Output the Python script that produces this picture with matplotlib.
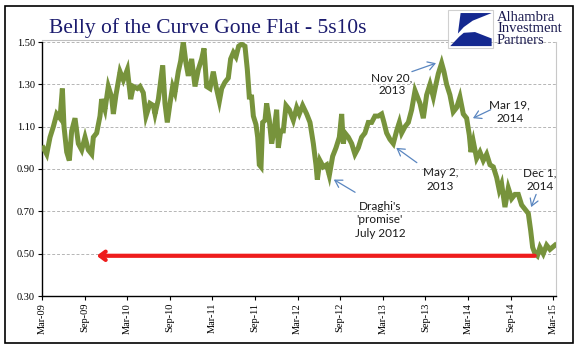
import numpy as np
import pandas as pd
import matplotlib
matplotlib.use("Agg")
import matplotlib.pyplot as plt
from matplotlib.patches import Rectangle, Polygon, FancyArrowPatch
from matplotlib.lines import Line2D

# months since Mar-2009 and 5s10s spread
months = [0.19, 0.66, 1.13, 1.6, 2.07, 2.54, 2.87, 3.1, 3.48, 3.85, 4.18, 4.65,
          5.12, 5.59, 6.06, 6.53, 7.0, 7.23, 7.7, 8.17, 8.4, 8.87, 9.34, 9.81,
          10.05, 10.42, 10.99, 11.46, 12.02, 12.49, 12.86, 13.43, 13.8, 14.27,
          14.65, 15.21, 15.68, 15.92, 16.39,
          17.0, 17.32, 17.65, 18.03, 18.4, 18.73, 19.2, 19.53, 19.9, 20.28,
          20.61, 21.08, 21.55, 22.02, 22.49, 22.82, 23.19, 23.66, 24.13, 24.51,
          24.98, 25.31, 25.77, 26.24, 26.57, 26.95, 27.32, 27.7, 28.12, 28.59,
          28.92, 29.2, 29.53, 29.77, 30.14, 30.38, 30.61, 30.85, 31.08, 31.41,
          31.64, 32.02, 32.35, 32.68, 33.05, 33.29, 33.62, 33.99, 34.37, 34.84,
          35.4, 35.87, 36.24, 36.71, 37.28, 37.75, 38.22, 38.59, 38.78, 39.15,
          39.62, 40.09, 40.47, 40.94, 41.41, 41.88, 42.21, 42.44, 42.68, 43.15,
          43.62, 44.08, 44.55, 45.02, 45.49, 45.96, 46.43, 46.9, 47.37, 47.84,
          48.17, 48.54, 49.01, 49.48, 49.95, 50.33, 50.66, 51.13, 51.6, 52.07,
          52.54, 53.0,
          53.24, 53.71, 54.18, 54.65, 55.12, 55.49, 55.82, 56.29, 56.62, 56.99,
          57.46, 57.93, 58.4, 58.87, 59.34, 59.81, 60.19, 60.42, 60.75, 61.22,
          61.69, 62.16, 62.63, 63.1, 63.57, 64.04, 64.41, 64.74, 65.21, 65.68,
          66.15, 66.62, 67.09, 67.56, 68.03, 68.5, 68.83, 69.11, 69.44, 69.77,
          70.14, 70.61, 71.08, 71.55, 72.25]
spread = [1.00, 0.97, 1.05, 1.10, 1.16, 1.14, 1.28, 1.10, 0.98, 0.94, 1.08, 1.14,
          1.02, 0.99, 1.05, 0.99, 0.97, 1.05, 1.07, 1.15, 1.23, 1.18, 1.29, 1.24,
          1.16, 1.25, 1.36, 1.32, 1.37, 1.23, 1.29, 1.28, 1.29, 1.26,
          1.15, 1.21, 1.20, 1.16, 1.23,
          1.39, 1.21, 1.12, 1.21, 1.29, 1.26, 1.36, 1.41, 1.50, 1.40,
          1.34, 1.42, 1.29, 1.37, 1.42, 1.47, 1.29, 1.28, 1.36, 1.29,
          1.22, 1.28, 1.31, 1.33, 1.42, 1.45, 1.43, 1.48, 1.49, 1.48,
          1.37, 1.24, 1.24, 1.15, 1.11, 1.05, 0.92, 0.91, 1.12, 1.13,
          1.21, 1.13, 1.02, 1.08, 1.18, 1.00, 1.08, 1.08, 1.20, 1.18,
          1.13, 1.19, 1.16, 1.20, 1.16, 1.12, 1.02, 0.92, 0.85, 0.94,
          0.91, 0.92, 0.87, 0.96, 1.00, 1.05, 1.16, 1.02, 1.07, 1.05,
          1.02, 0.97, 1.00, 1.05, 1.07, 1.12, 1.12, 1.15, 1.15, 1.16,
          1.12, 1.07, 1.04, 1.02, 1.08, 1.12, 1.07, 1.10, 1.12, 1.18,
          1.27, 1.23,
          1.21, 1.14, 1.25, 1.30, 1.24, 1.30, 1.35, 1.40, 1.36, 1.30,
          1.25, 1.17, 1.19, 1.24, 1.16, 1.14, 1.06, 0.98, 1.03, 0.95,
          0.98, 0.94, 0.97, 0.92, 0.91, 0.86, 0.80, 0.83, 0.72, 0.81,
          0.76, 0.78, 0.78, 0.73, 0.71, 0.69, 0.61, 0.53, 0.50, 0.49,
          0.53, 0.50, 0.54, 0.52, 0.54]

tick_labels = ["Mar-09", "Sep-09", "Mar-10", "Sep-10", "Mar-11", "Sep-11", "Mar-12",
               "Sep-12", "Mar-13", "Sep-13", "Mar-14", "Sep-14", "Mar-15"]
tick_months = [0, 6, 12, 18, 24, 30, 36, 42, 48, 54, 60, 66, 72]
y_ticks = [0.30, 0.50, 0.70, 0.90, 1.10, 1.30, 1.50]

# annotation text, text centre, arrow tail, arrow head (months, spread)
notes = [
    ("Nov 20,\n2013", (49.3, 1.30), (52.1, 1.36), (55.5, 1.40)),
    ("Mar 19,\n2014", (65.9, 1.17), (63.2, 1.18), (60.7, 1.14)),
    ("May 2,\n2013", (56.1, 0.85), (52.8, 0.93), (49.9, 1.00)),
    ("Draghi's\n'promise'\nJuly 2012", (47.6, 0.66), (44.1, 0.79), (41.1, 0.85)),
    ("Dec 1,\n2014", (70.1, 0.85), (69.6, 0.78), (68.9, 0.72)),
]
red_start, red_end, red_level = 69.4, 7.7, 0.49

W, H = 583, 361
fig = plt.figure(figsize=(W / 100, H / 100), dpi=100)
ax = fig.add_axes([42 / W, 1 - 296 / H, (556 - 42) / W, (296 - 42) / H])

ax.plot(months, spread, color="#77933C", lw=3.6, solid_joinstyle="miter", zorder=3)

ax.set_xlim(0, 72.4)
ax.set_ylim(0.30, 1.50)
ax.set_yticks(y_ticks)
ax.set_yticklabels([f"{v:.2f}" for v in y_ticks], family="Liberation Serif", fontsize=7.5)
ax.set_xticks(tick_months)
ax.set_xticklabels(tick_labels, rotation=90, family="Liberation Serif", fontsize=7.5)
ax.tick_params(length=3, width=0.8, pad=2, colors="black")
for v in y_ticks[1:]:
    ax.axhline(v, color="#b5b5b5", lw=0.7, ls=(0, (3, 2)), zorder=1)
ax.spines["top"].set_visible(False)
ax.spines["right"].set_color("#c8c8c8")
ax.spines["right"].set_linewidth(0.8)
ax.spines["left"].set_linewidth(1.0)
ax.spines["bottom"].set_linewidth(1.0)

# red arrow at 0.50
ax.add_patch(FancyArrowPatch((red_start, red_level), (red_end, red_level),
                             arrowstyle="->,head_length=4,head_width=3",
                             color="#ee1c1c", lw=3, zorder=4,
                             shrinkA=0, shrinkB=0))

for text, tpos, tail, head in notes:
    ax.text(tpos[0], tpos[1], text, ha="center", va="center", fontsize=8.5,
            family="Lato", color="#1a1a1a", linespacing=1.25, zorder=5)
    ax.annotate("", xy=head, xytext=tail,
                arrowprops=dict(arrowstyle="->,head_length=0.5,head_width=0.3",
                                color="#5a86c0", lw=0.9, shrinkA=0, shrinkB=0))

# title and rule
fig.text(49 / W, 1 - 33 / H, "Belly of the Curve Gone Flat - 5s10s",
         family="Liberation Serif", fontsize=15.5, color="#1b1b6e", va="baseline")
fig.add_artist(Line2D([42 / W, 448 / W], [1 - 40 / H, 1 - 40 / H],
                      color="#c0c0c0", lw=0.8))

# logo
bx0, by0, bx1, by1 = 448, 10, 493, 48
fig.add_artist(Rectangle((bx0 / W, 1 - by1 / H), (bx1 - bx0) / W, (by1 - by0) / H,
                         fill=False, ec="#d0d0d0", lw=0.8))
def lp(px, py):
    return (bx0 + px * (bx1 - bx0)) / W, 1 - (by0 + py * (by1 - by0)) / H
upper = [lp(0.28, 0.08), lp(0.97, 0.08), lp(0.55, 0.28), lp(0.35, 0.45), lp(0.22, 0.62)]
lower = [lp(0.05, 0.95), lp(0.97, 0.95), lp(0.97, 0.75), lp(0.6, 0.58), lp(0.35, 0.6), lp(0.25, 0.7)]
fig.add_artist(Polygon(upper, closed=True, fc="#14288f", ec="none"))
fig.add_artist(Polygon(lower, closed=True, fc="#14288f", ec="none"))
fig.text(497 / W, 1 - 29 / H, "Alhambra\nInvestment\nPartners", family="Liberation Serif",
         fontsize=10.5, color="#1b1b50", va="center", ha="left", linespacing=0.85)

# outer frame
fig.add_artist(Rectangle((5 / W, 1 - 343 / H), (573 - 5) / W, (343 - 6) / H,
                         fill=False, ec="black", lw=1.2))

fig.savefig("out.png", dpi=100)
